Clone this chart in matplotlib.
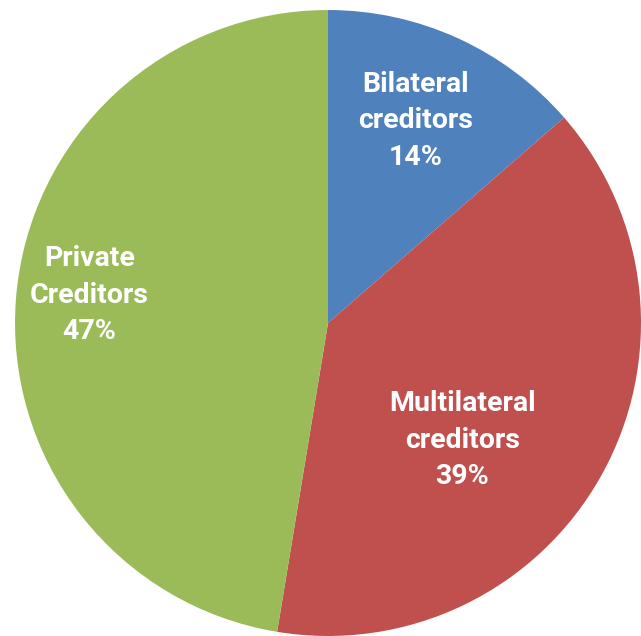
import numpy as np
import matplotlib.pyplot as plt

# creditor shares (percent), going clockwise from the top
labels = ["Bilateral\ncreditors", "Multilateral\ncreditors", "Private\nCreditors"]
shares = [13.6, 39.0, 47.4]
colors = ["#4F81BD", "#C0504D", "#9BBB59"]

# where the label sits inside each slice (fraction of radius, angle nudge in degrees)
label_dist = [0.705, 0.57, 0.767]
label_nudge = [1.0, -12, -2]

fig = plt.figure(figsize=(6.41, 6.36), dpi=100)
ax = fig.add_axes([0, 0, 1, 1])

wedges, _ = ax.pie(shares, colors=colors, startangle=90, counterclock=False,
                   radius=1.0, wedgeprops={"linewidth": 0})

for w, lab, s, d, n in zip(wedges, labels, shares, label_dist, label_nudge):
    mid = np.deg2rad((w.theta1 + w.theta2) / 2 + n)
    ax.text(d * np.cos(mid), d * np.sin(mid), lab + "\n" + str(round(s)) + "%",
            ha="center", va="center", color="white", fontsize=20.5,
            fontweight="bold", family=["Roboto", "DejaVu Sans"], linespacing=1.45)

ax.set_xlim(-1.048, 1.0)
ax.set_ylim(-1.0, 1.032)
ax.set_aspect("equal")
ax.axis("off")

fig.savefig("out.png", dpi=100)
